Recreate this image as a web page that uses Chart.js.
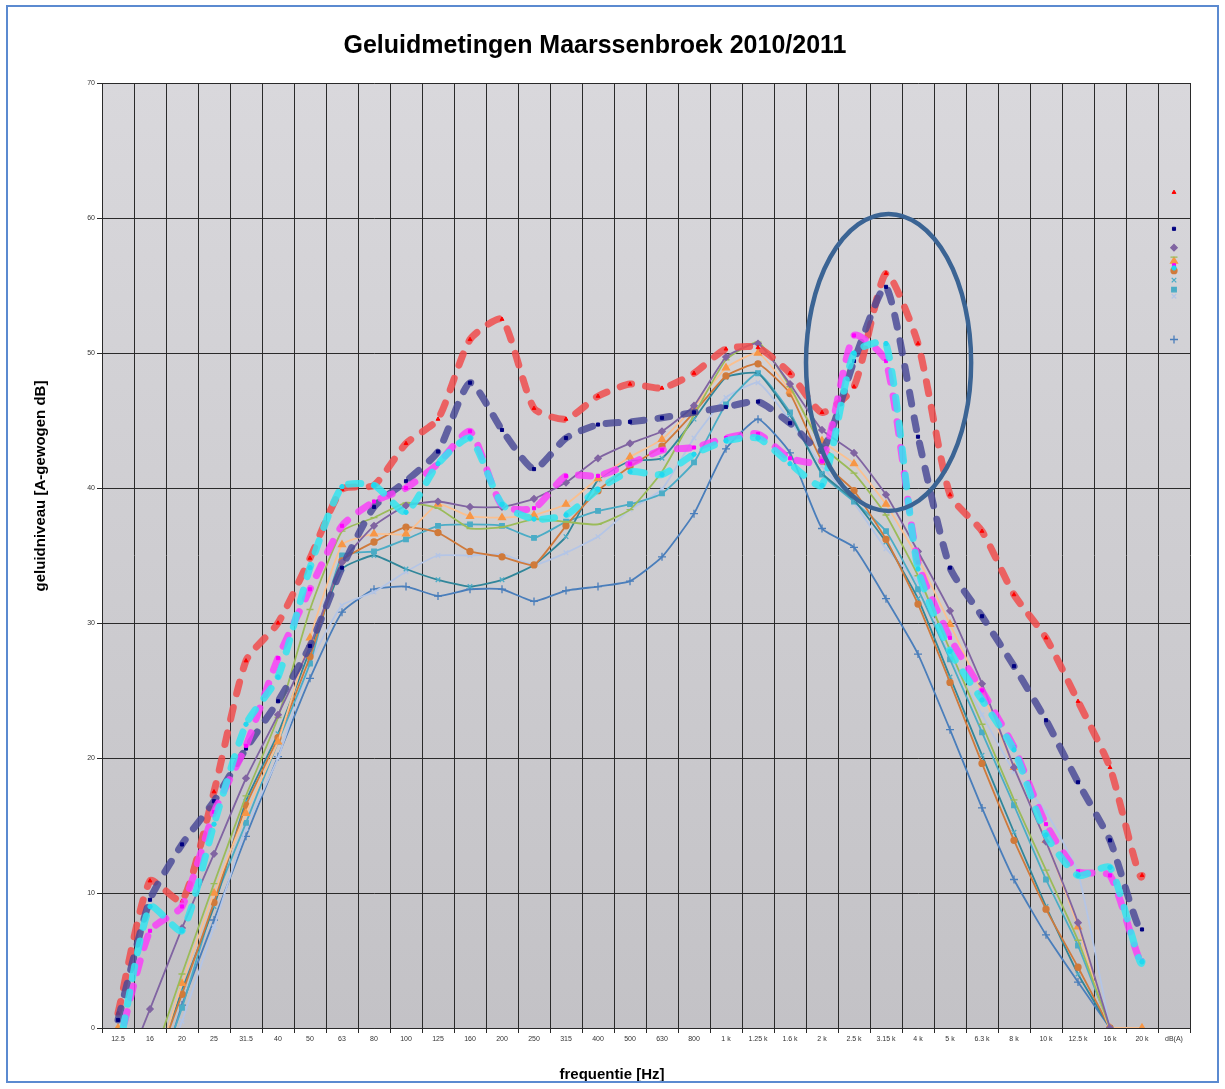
<!DOCTYPE html>
<html>
<head>
<meta charset="utf-8">
<title>Geluidmetingen Maarssenbroek 2010/2011</title>
<script src="https://cdn.jsdelivr.net/npm/chart.js@4.4.1/dist/chart.umd.min.js"></script>
<style>
  body { margin: 0; background: #fff; }
  #wrap { position: relative; width: 1225px; height: 1089px; }
  #frame { position: absolute; left: 6px; top: 5px; width: 1213px; height: 1078px;
           border: 2px solid #5b8ad0; box-sizing: border-box; pointer-events: none; }
</style>
</head>
<body>
<div id="wrap">
  <canvas id="chart"></canvas>
  <div id="frame"></div>
</div>
<script>
// ---- data ----
const categories = ['12.5','16','20','25','31.5','40','50','63','80','100','125','160','200','250','315','400','500','630','800',
  '1 k','1.25 k','1.6 k','2 k','2.5 k','3.15 k','4 k','5 k','6.3 k','8 k','10 k','12.5 k','16 k','20 k','dB(A)'];

const yTicks = { min: 0, max: 70, step: 10 };

const red = [1.1,10.9,9.4,17.5,27.2,30.0,34.8,39.9,40.2,43.3,45.1,51.0,52.5,45.9,45.1,46.8,47.7,47.4,48.5,
  50.3,50.4,48.5,45.6,47.5,55.9,50.7,39.5,36.8,32.1,28.9,24.2,19.3,11.3,61.9];
const navy = [0.6,9.5,13.6,16.8,20.7,24.2,28.3,34.1,38.6,40.5,42.7,47.8,44.3,41.4,43.7,44.7,44.9,45.2,45.6,
  46.0,46.4,44.8,42.8,49.4,54.9,43.8,34.1,30.5,26.8,22.8,18.2,13.9,7.3,59.2];
const magenta = [-1.5,7.2,9.0,16.0,20.9,27.4,32.5,37.2,39.0,40.0,41.8,44.2,38.7,38.5,40.9,40.9,41.8,42.8,43.0,
  43.7,44.0,42.2,42.0,51.3,49.4,34.5,28.9,25.0,20.8,15.1,11.6,11.3,5.0,56.5];
const cyan = [-2.0,9.0,7.2,15.1,22.5,26.0,34.1,40.1,40.2,38.2,41.8,43.7,38.8,37.7,38.0,39.9,41.2,41.0,42.5,
  43.5,43.7,41.8,40.2,50.0,50.7,34.0,27.9,24.3,20.6,14.3,11.3,11.9,4.9,56.3];
const purple = [-4.5,1.4,7.4,12.9,18.5,23.2,28.3,34.5,37.2,38.7,39.0,38.6,38.6,39.2,40.4,42.2,43.3,44.2,46.1,
  49.7,50.7,47.7,44.3,42.6,39.5,35.3,30.9,25.5,19.3,13.8,7.8,0,null,57.8];
const green = [null,-3.0,4.0,10.7,17.2,23.0,31.0,36.8,37.8,38.9,38.5,37.0,37.1,37.7,37.5,37.3,38.4,41.2,45.4,
  49.5,50.8,47.5,43.1,41.1,38.0,33.5,28.0,22.5,16.9,11.7,6.5,0,null,57.1];
const lightOrange = [0,-3.5,3.3,10.0,15.9,21.2,28.9,35.8,36.6,36.6,38.8,37.9,37.8,38.0,38.8,40.7,42.3,43.6,46.0,
  48.9,50.0,47.2,43.5,41.8,38.8,34.8,29.9,24.9,19.3,13.9,7.5,0,0,56.8];
const orange = [null,-4.0,2.5,9.3,16.5,21.5,27.5,34.6,36.0,37.1,36.7,35.3,34.9,34.3,37.2,39.8,41.6,43.1,45.6,
  48.3,49.2,47.0,42.0,39.8,36.2,31.4,25.6,19.6,13.9,8.8,4.5,0,null,56.1];
const teal = [null,-4.0,2.8,9.0,16.8,21.8,28.0,34.0,35.0,34.0,33.2,32.7,33.2,34.3,36.4,40.6,42.0,42.2,45.1,
  48.2,48.5,45.4,41.1,39.1,36.0,31.8,26.0,20.2,14.5,9.0,4.0,0,null,55.4];
const steel = [null,-5.0,1.5,9.3,15.2,21.2,27.0,35.0,35.3,36.2,37.2,37.3,37.2,36.3,37.5,38.3,38.8,39.6,41.9,
  46.2,48.5,45.6,41.0,39.0,36.8,32.5,27.3,21.9,16.5,11.0,6.1,0,null,54.7];
const lavender = [null,-6.0,0.5,7.5,14.8,20.0,27.0,31.3,32.3,33.8,35.0,35.0,35.1,34.3,35.2,36.4,38.4,39.9,43.7,
  46.7,47.8,45.0,41.6,38.9,35.5,33.0,27.5,23.2,19.0,16.0,11.5,0,null,54.2];
const blue = [null,-6.0,1.7,8.0,14.2,20.1,25.9,30.8,32.5,32.7,32.0,32.5,32.5,31.6,32.4,32.7,33.1,34.9,38.1,
  42.9,45.1,42.6,37.0,35.6,31.8,27.7,22.1,16.3,11.0,6.9,3.4,0,null,51.0];

// the circled peak
const ELLIPSE = { category: '3.15 k', value: 49.3, halfCats: 2.58, halfDb: 11 };

// ---- helpers ----
const LAST = categories.length - 1;
const hideLast = ctx => ctx.p1DataIndex === LAST ? 'rgba(0,0,0,0)' : undefined;

function dashed(data, color, marker, markerColor, order) {
  return {
    data, order,
    borderColor: color, borderWidth: 7, borderDash: [12, 14], borderCapStyle: 'round', borderJoinStyle: 'round',
    pointStyle: marker, pointRadius: 2.2, pointBackgroundColor: markerColor, pointBorderColor: markerColor, pointBorderWidth: 1,
    tension: 0.2, spanGaps: false,
    segment: { borderColor: hideLast }
  };
}
function thin(data, color, marker, markerColor, radius, order) {
  return {
    data, order,
    borderColor: color, borderWidth: 1.8,
    pointStyle: marker, pointRadius: radius, pointBackgroundColor: markerColor, pointBorderColor: markerColor, pointBorderWidth: 1.3,
    tension: 0.15, spanGaps: false,
    segment: { borderColor: hideLast }
  };
}

const plotBackground = {
  id: 'plotBackground',
  beforeDraw(chart) {
    const { ctx, chartArea: a } = chart;
    const g = ctx.createLinearGradient(0, a.top, 0, a.bottom);
    g.addColorStop(0, '#d9d8dc');
    g.addColorStop(1, '#c3c2c6');
    ctx.save();
    ctx.fillStyle = g;
    ctx.fillRect(a.left, a.top, a.right - a.left, a.bottom - a.top);
    ctx.restore();
  }
};

const peakEllipse = {
  id: 'peakEllipse',
  afterDatasetsDraw(chart) {
    const xs = chart.scales.x, ys = chart.scales.y, ctx = chart.ctx;
    const i = categories.indexOf(ELLIPSE.category);
    const cw = xs.getPixelForValue(1) - xs.getPixelForValue(0);
    const cx = xs.getPixelForValue(i) + cw * 0.08;
    const cy = ys.getPixelForValue(ELLIPSE.value);
    const ry = ys.getPixelForValue(ELLIPSE.value - ELLIPSE.halfDb) - cy;
    ctx.save();
    ctx.strokeStyle = '#3b6494';
    ctx.lineWidth = 4.5;
    ctx.beginPath();
    ctx.ellipse(cx, cy, cw * ELLIPSE.halfCats, ry, 0, 0, Math.PI * 2);
    ctx.stroke();
    ctx.restore();
  }
};

const axisTitles = {
  id: 'axisTitles',
  afterDraw(chart) {
    const ctx = chart.ctx;
    ctx.save();
    ctx.fillStyle = '#000';
    ctx.font = 'bold 15px "Liberation Sans", Arial, sans-serif';
    ctx.textAlign = 'center';
    ctx.textBaseline = 'middle';
    ctx.fillText('frequentie [Hz]', 612, 1075);
    ctx.translate(41, 486);
    ctx.rotate(-Math.PI / 2);
    ctx.fillText('geluidniveau [A-gewogen dB]', 0, 0);
    ctx.restore();
  }
};

Chart.defaults.font.family = '"Liberation Sans", Arial, sans-serif';

new Chart(document.getElementById('chart'), {
  type: 'line',
  data: {
    labels: categories,
    datasets: [
      thin(blue, '#4a7ebb', 'cross', '#4a7ebb', 4, 14),
      thin(lavender, '#b4c5e6', 'crossRot', '#b4c5e6', 3.2, 13),
      thin(steel, '#4bacc6', 'rect', '#4bacc6', 3.2, 12),
      thin(teal, '#31869a', 'crossRot', '#4bacc6', 3.2, 11),
      thin(orange, '#cf7a3c', 'circle', '#d07a3a', 3, 10),
      thin(lightOrange, '#fac090', 'triangle', '#f79646', 4, 9),
      thin(green, '#9bbb59', 'line', '#9bbb59', 3.5, 8),
      thin(purple, '#8064a2', 'rectRot', '#8064a2', 3.2, 7),
      dashed(red, 'rgba(240,78,78,0.85)', 'triangle', '#ff0000', 3),
      dashed(navy, 'rgba(72,72,150,0.82)', 'rect', '#000080', 2),
      dashed(magenta, 'rgba(250,60,250,0.82)', 'rect', '#ff00ff', 1),
      dashed(cyan, 'rgba(50,228,240,0.85)', 'circle', '#20d8f0', 0)
    ]
  },
  options: {
    responsive: true,
    maintainAspectRatio: false,
    animation: false,
    layout: { padding: { left: 0, right: 35, top: 0, bottom: 0 } },
    plugins: {
      legend: { display: false },
      tooltip: { enabled: false },
      title: {
        display: true,
        text: 'Geluidmetingen Maarssenbroek 2010/2011',
        color: '#000',
        font: { size: 25, weight: 'bold' },
        padding: { top: 31, bottom: 22 }
      }
    },
    scales: {
      x: {
        offset: true,
        grid: { offset: true, color: '#2a2a2a', lineWidth: 1, tickLength: 5, tickColor: '#2a2a2a' },
        border: { color: '#2a2a2a' },
        ticks: { color: '#333', font: { size: 7 }, maxRotation: 0, autoSkip: false, padding: 2 },
        afterFit(scale) { scale.height = 61; }
      },
      y: {
        min: yTicks.min, max: yTicks.max,
        grid: { color: '#2a2a2a', lineWidth: 1, tickLength: 5, tickColor: '#2a2a2a' },
        border: { color: '#2a2a2a' },
        ticks: { stepSize: yTicks.step, color: '#333', font: { size: 7 }, padding: 2 },
        afterFit(scale) { scale.width = 102; }
      }
    }
  },
  plugins: [plotBackground, peakEllipse, axisTitles]
});
</script>
</body>
</html>
